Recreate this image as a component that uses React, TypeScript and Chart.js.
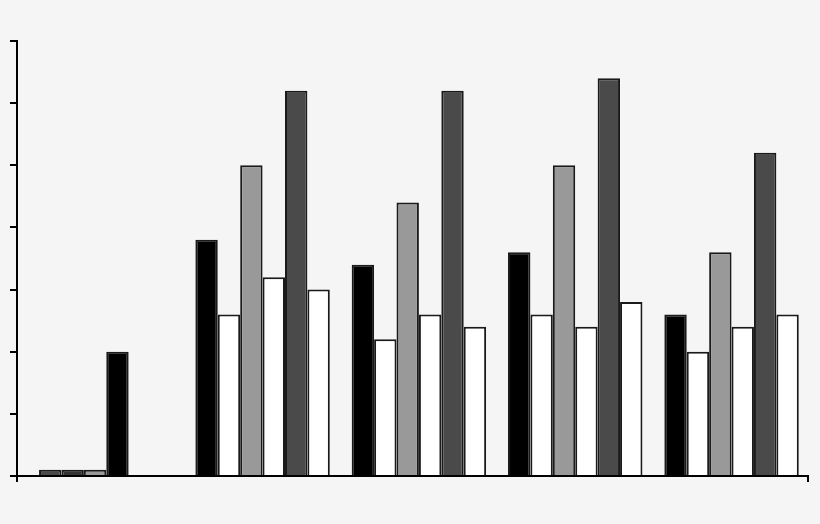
import React, { useEffect, useRef } from "react";
import { Chart, registerables } from "chart.js";

Chart.register(...registerables);

const groups = [0, 1, 2, 3, 4];
const series1 = [0.1, 3.8, 3.4, 3.6, 2.6];
const series2 = [0.1, 2.6, 2.2, 2.6, 2.0];
const series3 = [0.1, 5.0, 4.4, 5.0, 3.6];
const series4 = [2.0, 3.2, 2.6, 2.4, 2.4];
const series5 = [0, 6.2, 6.2, 6.4, 5.2];
const series6 = [0, 3.0, 2.4, 2.8, 2.6];
const yTicks = [0, 1, 2, 3, 4, 5, 6, 7];

const BLACK = "#000000";
const WHITE = "#ffffff";
const GRAY = "#999999";
const DARK = "#4a4a4a";
const DARKER = "#333333";

const seriesList = [
  { data: series1, color: BLACK, first: DARK },
  { data: series2, color: WHITE, first: DARKER },
  { data: series3, color: GRAY, first: GRAY },
  { data: series4, color: WHITE, first: BLACK },
  { data: series5, color: DARK, first: DARK },
  { data: series6, color: WHITE, first: WHITE },
];

export default function App() {
  const ref = useRef<HTMLCanvasElement | null>(null);
  useEffect(() => {
    if (!ref.current) return;
    const chart = new Chart(ref.current, {
      type: "bar",
      data: {
        datasets: seriesList.map((s) => ({
          data: groups.map((g, i) => ({ x: g, y: s.data[i] })),
          backgroundColor: groups.map((g, i) => (i === 0 ? s.first : s.color)),
          borderColor: "#1a1a1a",
          borderWidth: 2,
          borderSkipped: "bottom",
          categoryPercentage: 0.86,
          barPercentage: 1,
          xAxisID: "x",
        })),
      },
      options: {
        animation: false,
        responsive: false,
        maintainAspectRatio: false,
        layout: { padding: { left: 10, top: 41, right: 12, bottom: 42 } },
        plugins: { legend: { display: false }, tooltip: { enabled: false } },
        scales: {
          x: {
            type: "linear",
            display: false,
            offset: false,
            grid: { offset: false },
            min: -0.571,
            max: 4.489,
            afterBuildTicks: (scale: any) => {
              scale.ticks = groups.map((v) => ({ value: v }));
            },
          },
          x2: {
            type: "category",
            labels: ["", ""],
            offset: false,
            position: "bottom",
            grid: {
              offset: false,
              drawOnChartArea: false,
              drawTicks: true,
              tickLength: 6,
              color: "#000",
              lineWidth: 2,
            },
            border: { display: true, color: "#000", width: 2 },
            ticks: { display: false },
          },
          y: {
            type: "linear",
            min: yTicks[0],
            max: yTicks[yTicks.length - 1],
            afterBuildTicks: (scale: any) => {
              scale.ticks = yTicks.map((v) => ({ value: v }));
            },
            grid: {
              drawOnChartArea: false,
              drawTicks: true,
              tickLength: 7,
              color: "#000",
              lineWidth: 2,
            },
            border: { display: true, color: "#000", width: 2 },
            ticks: { display: false },
          },
        },
      },
    } as any);
    return () => chart.destroy();
  }, []);
  return (
    <div
      style={{
        position: "fixed",
        left: 0,
        top: 0,
        width: 820,
        height: 524,
        background: "#f5f5f5",
      }}
    >
      <canvas ref={ref} width={820} height={524} style={{ width: 820, height: 524 }} />
    </div>
  );
}
